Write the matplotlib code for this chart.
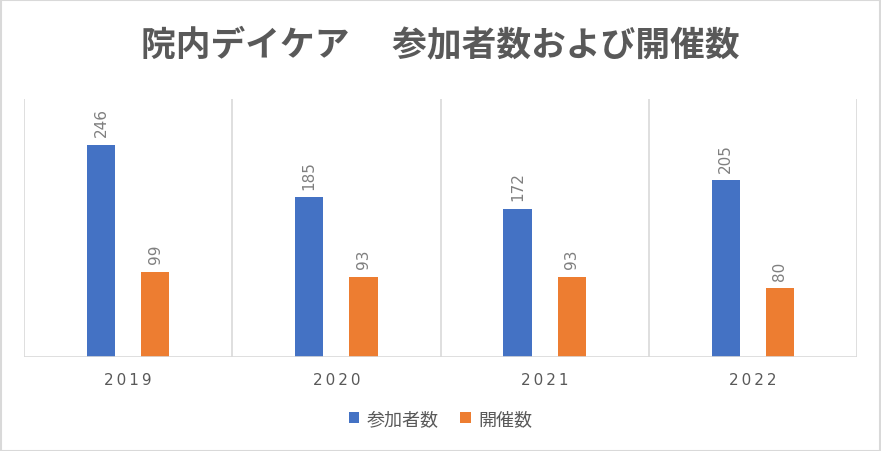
import matplotlib
matplotlib.use("Agg")
import matplotlib.pyplot as plt
import numpy as np

plt.rcParams['font.family'] = ['Noto Sans CJK JP', 'DejaVu Sans']

years = ["2019", "2020", "2021", "2022"]
participants = [246, 185, 172, 205]
sessions = [99, 93, 93, 80]
series_names = ["参加者数", "開催数"]
title = "院内デイケア　 参加者数および開催数"

blue = "#4472C4"
orange = "#ED7D31"
grid_c = "#D9D9D9"
text_c = "#595959"

fig = plt.figure(figsize=(8.81, 4.52), dpi=100)
ax = fig.add_axes([24/881, 1-358/452, (857-24)/881, (358-100)/452])

x = np.arange(len(years))
w = 0.135
off = 0.13
b1 = ax.bar(x - off, participants, w, color=blue, label=series_names[0])
b2 = ax.bar(x + off, sessions, w, color=orange, label=series_names[1])

for bars in (b1, b2):
    for r in bars:
        ax.annotate(f"{int(r.get_height())}", (r.get_x() + r.get_width()/2, r.get_height()),
                    xytext=(0, 6), textcoords="offset points", rotation=90,
                    ha="center", va="bottom", fontsize=11, color="#7F7F7F",
                    family=['DejaVu Sans'])

ax.set_xlim(-0.5, len(years) - 0.5)
ax.set_ylim(0, 299)
for b in np.arange(-0.5, len(years), 1.0):
    ax.axvline(b, color=grid_c, lw=1.2, zorder=0)

for s in ax.spines.values():
    s.set_visible(False)
ax.axhline(0, color=grid_c, lw=1.2, zorder=3)
ax.set_yticks([])
ax.set_xticks(x)
ax.set_xticklabels(["\u2009".join(y) for y in years], fontsize=11, color=text_c,
                   family=['DejaVu Sans'])
ax.tick_params(axis='x', length=0, pad=11)

fig.text(0.5, 1-45/452, title, ha="center", va="center", fontsize=25,
         fontweight="bold", color=text_c)

leg = fig.legend(handles=[b1, b2], labels=series_names, loc="center",
                 bbox_to_anchor=(0.5, 1-420/452), ncol=2, frameon=False,
                 fontsize=13, handlelength=0.6, handleheight=0.6,
                 handletextpad=0.4, columnspacing=1.2)
for t in leg.get_texts():
    t.set_color(text_c)

fig.patches.append(plt.Rectangle((0.001, 0.001), 0.998, 0.997, transform=fig.transFigure,
                                 fill=False, edgecolor=grid_c, lw=1.5))

fig.savefig("out.png", dpi=100, facecolor="white")
